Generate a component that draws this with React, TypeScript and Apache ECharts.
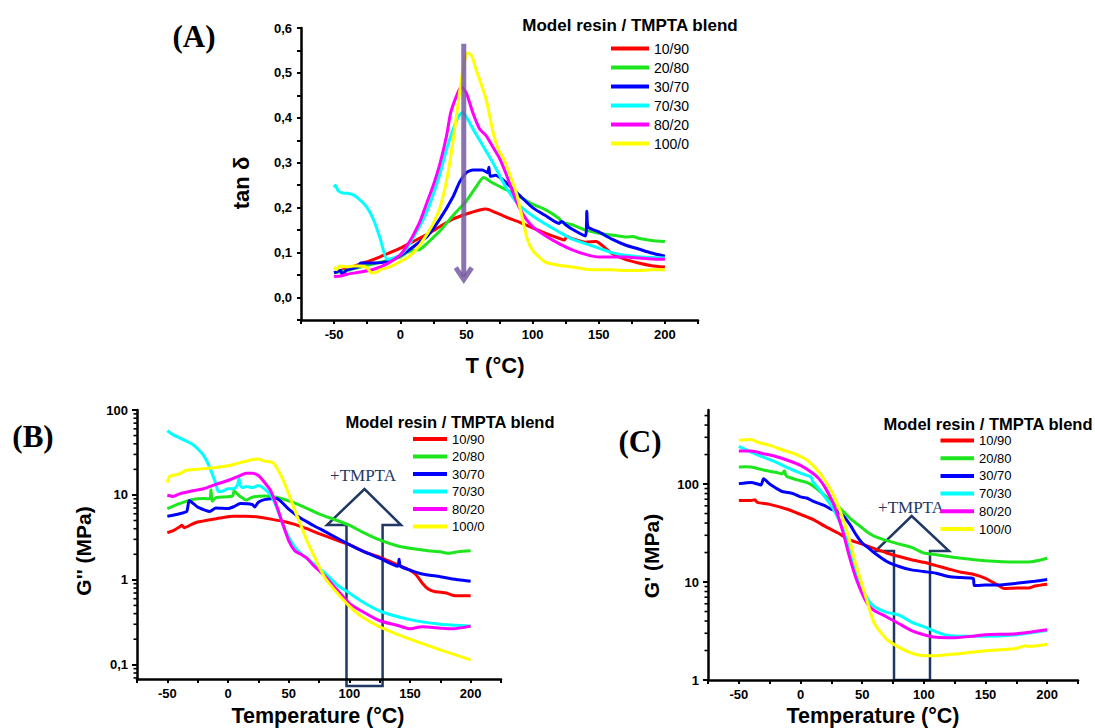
import React, { useEffect, useRef } from 'react';
import * as echarts from 'echarts';

const FONT = '"Liberation Sans", Arial, sans-serif';
const SERIF = '"Liberation Serif", "Times New Roman", serif';

const BLEND_NAMES = ['10/90', '20/80', '30/70', '70/30', '80/20', '100/0'];
const BLEND_COLORS = ['#ff0000', '#1ee61e', '#0000ff', '#00ffff', '#ff00ff', '#ffff00'];
const LEGEND_TITLE = 'Model resin / TMPTA blend';

// Panel A: tan delta vs T (°C)
const A_10_90 = [[-50,0.055],[-40,0.065],[-30,0.075],[-20,0.085],[-10,0.097],[0,0.11],[10,0.125],[20,0.14],[30,0.158],[40,0.175],[50,0.186],[60,0.195],[65,0.197],[70,0.192],[80,0.179],[90,0.168],[100,0.155],[110,0.143],[120,0.132],[124,0.128],[126,0.136],[130,0.131],[140,0.123],[148,0.125],[155,0.11],[160,0.098],[170,0.085],[180,0.077],[190,0.071],[200,0.068]];
const A_20_80 = [[-50,0.055],[-40,0.06],[-30,0.068],[-20,0.075],[-10,0.082],[0,0.09],[5,0.1],[10,0.105],[15,0.107],[20,0.12],[30,0.148],[40,0.183],[50,0.215],[57,0.245],[63,0.267],[70,0.255],[80,0.24],[90,0.225],[100,0.208],[110,0.195],[120,0.176],[122,0.168],[130,0.162],[140,0.15],[150,0.143],[160,0.139],[170,0.135],[176,0.136],[180,0.132],[190,0.127],[200,0.125]];
const A_30_70 = [[-50,0.055],[-45,0.06],[-44,0.052],[-40,0.062],[-32,0.068],[-30,0.077],[-20,0.077],[-10,0.08],[0,0.093],[10,0.113],[15,0.125],[20,0.135],[30,0.175],[40,0.225],[45,0.258],[50,0.278],[55,0.284],[62,0.284],[66,0.278],[67,0.29],[68,0.27],[72,0.272],[80,0.256],[90,0.228],[100,0.2],[110,0.182],[120,0.165],[122,0.17],[125,0.162],[130,0.152],[140,0.137],[141,0.192],[142,0.157],[150,0.146],[160,0.13],[170,0.117],[180,0.108],[190,0.099],[200,0.092]];
const A_70_30 = [[-50,0.245],[-49,0.25],[-47,0.238],[-44,0.233],[-40,0.232],[-35,0.228],[-30,0.216],[-25,0.2],[-20,0.172],[-15,0.13],[-10,0.085],[-5,0.088],[0,0.095],[5,0.11],[10,0.135],[15,0.16],[20,0.19],[25,0.23],[30,0.275],[35,0.33],[40,0.375],[44,0.403],[47,0.412],[50,0.402],[55,0.375],[60,0.35],[70,0.3],[80,0.245],[90,0.205],[100,0.182],[110,0.163],[120,0.146],[130,0.13],[140,0.12],[150,0.11],[160,0.1],[170,0.094],[180,0.091],[190,0.089],[200,0.088]];
const A_80_20 = [[-50,0.047],[-45,0.048],[-40,0.052],[-30,0.057],[-20,0.063],[-10,0.075],[0,0.095],[5,0.115],[10,0.14],[15,0.17],[20,0.21],[25,0.25],[30,0.298],[35,0.36],[38,0.41],[42,0.445],[46,0.47],[50,0.455],[55,0.41],[60,0.375],[65,0.36],[70,0.335],[75,0.31],[80,0.275],[85,0.235],[90,0.2],[95,0.175],[100,0.158],[110,0.137],[120,0.12],[130,0.106],[140,0.096],[150,0.09],[160,0.09],[170,0.09],[180,0.088],[190,0.086],[200,0.085]];
const A_100_0 = [[-50,0.068],[-48,0.062],[-46,0.07],[-40,0.068],[-35,0.07],[-30,0.07],[-25,0.066],[-22,0.055],[-18,0.056],[-15,0.062],[-10,0.066],[-5,0.072],[0,0.08],[5,0.088],[10,0.1],[15,0.118],[20,0.14],[25,0.165],[30,0.2],[35,0.26],[40,0.35],[45,0.46],[48,0.52],[51,0.545],[54,0.538],[57,0.51],[60,0.485],[65,0.44],[70,0.37],[74,0.33],[78,0.31],[82,0.28],[88,0.23],[92,0.18],[96,0.13],[100,0.105],[105,0.09],[110,0.078],[120,0.072],[130,0.068],[140,0.063],[150,0.062],[160,0.062],[170,0.06],[180,0.06],[190,0.062],[200,0.062]];

// Panel B: G'' (MPa) vs Temperature (°C)
const B_10_90 = [[-50,3.6],[-45,3.8],[-40,4.2],[-38,4.4],[-36,4.1],[-30,4.5],[-25,4.8],[-15,5.1],[-5,5.4],[5,5.6],[15,5.6],[25,5.5],[35,5.2],[45,4.9],[55,4.5],[65,4.0],[75,3.5],[85,3.1],[100,2.6],[112,2.15],[125,1.85],[140,1.5],[150,1.3],[155,1.15],[160,0.92],[165,0.78],[170,0.73],[180,0.7],[185,0.66],[190,0.65],[200,0.65]];
const B_20_80 = [[-50,6.9],[-45,7.4],[-40,7.9],[-30,8.8],[-20,9.1],[-15,9.0],[-14,11.5],[-13,8.4],[-10,9.3],[0,9.5],[4,9.8],[5,11.2],[7,10.5],[10,9.6],[15,8.7],[20,9.4],[30,9.7],[40,9.4],[50,8.5],[60,7.5],[75,6.0],[90,5.0],[100,4.4],[110,3.7],[125,2.95],[140,2.5],[150,2.35],[165,2.2],[175,2.14],[182,2.05],[190,2.15],[200,2.2]];
const B_30_70 = [[-50,5.6],[-40,6.0],[-34,6.4],[-32,8.6],[-28,7.8],[-25,7.2],[-15,6.4],[-10,7.0],[0,6.9],[5,7.3],[10,7.9],[20,7.7],[22,7.2],[25,8.2],[30,8.8],[40,9.1],[50,6.8],[60,5.3],[70,4.4],[80,3.7],[100,2.6],[112,2.15],[125,1.8],[140,1.45],[141,1.75],[142,1.45],[150,1.3],[160,1.17],[175,1.09],[190,1.0],[200,0.96]];
const B_70_30 = [[-50,57],[-45,51],[-40,47],[-30,40],[-25,35],[-20,29],[-15,21],[-10,13.5],[-8,11],[-5,11],[0,11.8],[5,11.8],[8,13.3],[9,15.8],[10,13],[12,12.2],[15,12.6],[20,12.2],[25,12.9],[30,11.8],[35,10],[40,7.2],[45,4.6],[50,3.2],[55,2.45],[60,2.05],[70,1.57],[80,1.2],[90,0.87],[100,0.7],[110,0.56],[125,0.43],[150,0.34],[175,0.3],[200,0.285]];
const B_80_20 = [[-50,9.9],[-45,9.6],[-40,10.3],[-30,11.1],[-20,11.8],[-10,13.3],[0,14.8],[10,16.9],[15,18],[20,18],[25,16.9],[30,14.1],[35,11.3],[40,7.5],[45,4.6],[50,2.9],[55,2.2],[60,2.0],[65,1.8],[70,1.5],[80,1.1],[90,0.76],[100,0.53],[110,0.43],[125,0.33],[140,0.29],[150,0.265],[160,0.28],[175,0.27],[185,0.265],[200,0.285]];
const B_100_0 = [[-50,14],[-48,16.5],[-40,17.7],[-35,19.4],[-25,20],[-10,21],[0,22],[10,24],[20,26],[25,26.5],[30,25],[37,24],[40,21],[45,15.5],[50,10.3],[55,6.6],[60,4.4],[65,2.9],[70,2.05],[75,1.43],[80,1.05],[90,0.7],[100,0.49],[110,0.37],[125,0.28],[150,0.2],[175,0.15],[200,0.114]];

// Panel C: G' (MPa) vs Temperature (°C)
const C_10_90 = [[-50,68],[-40,68],[-37,69],[-35,65],[-25,62],[-10,55],[0,49],[10,43.6],[20,37],[30,31.8],[40,27],[50,24.4],[60,21.9],[70,19.8],[80,18.2],[90,16.9],[100,15.9],[110,14.7],[120,13.6],[130,12.6],[140,12],[150,10.9],[160,9.3],[165,8.6],[175,8.7],[185,8.7],[190,9.1],[200,9.5]];
const C_20_80 = [[-50,149],[-45,150],[-40,149],[-30,139],[-20,132],[-15,127],[-13,137],[-12,124],[-10,118],[0,108],[5,104],[10,96],[20,76],[30,60],[40,45],[50,35.7],[55,31.8],[60,29.3],[70,26.5],[80,24.4],[90,22.6],[100,19.8],[110,19],[125,17.8],[150,16.5],[175,16],[185,16],[200,17.5]];
const C_30_70 = [[-50,101],[-40,104],[-32,98],[-30,113],[-25,100],[-20,91],[-15,84],[-10,82],[-5,79],[0,74],[5,72],[10,67],[20,60],[25,55],[30,53],[35,47],[40,38.7],[45,30.5],[50,25],[55,22.3],[60,19.8],[70,16.2],[80,14.4],[90,13.3],[100,12.8],[110,12.3],[120,11.4],[130,11.1],[140,10.9],[141,9.2],[150,9.3],[160,9.3],[175,9.7],[190,10.2],[200,10.6]];
const C_70_30 = [[-50,243],[-40,212],[-30,188],[-20,167],[-10,146],[0,129],[8,119],[9,115],[10,106],[15,89],[20,73],[25,60],[30,46],[35,33],[40,20.6],[45,12.8],[50,8.6],[55,6.5],[60,5.6],[70,4.9],[80,4.6],[90,3.9],[100,3.5],[110,3.1],[120,2.84],[130,2.8],[150,2.8],[175,2.9],[200,3.2]];
const C_80_20 = [[-50,217],[-40,217],[-30,204],[-20,191],[-10,174],[0,155],[10,129],[15,113],[20,92],[25,70],[30,49],[35,30.5],[40,17.5],[45,10.9],[50,7.6],[55,5.8],[60,5.1],[70,4.4],[80,3.75],[90,3.2],[100,2.9],[110,2.73],[125,2.7],[140,2.8],[150,2.9],[175,2.96],[200,3.25]];
const C_100_0 = [[-50,280],[-40,285],[-35,269],[-25,248],[-15,224],[-5,204],[0,191],[5,177],[10,155],[15,132],[20,108],[25,85],[30,62],[35,42],[40,26],[45,15],[50,9.3],[55,5.8],[60,3.75],[70,2.6],[80,2.15],[90,1.88],[100,1.77],[110,1.77],[125,1.84],[150,1.99],[175,2.1],[182,2.24],[185,2.2],[200,2.3]];

const PANEL_A = [A_10_90, A_20_80, A_30_70, A_70_30, A_80_20, A_100_0];
const PANEL_B = [B_10_90, B_20_80, B_30_70, B_70_30, B_80_20, B_100_0];
const PANEL_C = [C_10_90, C_20_80, C_30_70, C_70_30, C_80_20, C_100_0];

// axis ranges
const X_MIN = -75, X_MAX = 225, X_STEP = 25, X_LABEL_STEP = 50;
const A_Y_MIN = -0.05, A_Y_MAX = 0.6, A_Y_STEP = 0.05;
const B_Y_MIN = 0.068, B_Y_MAX = 100;
const C_Y_MIN = 1, C_Y_MAX = 570;
// purple arrow in panel A (data coords: from, to)
const A_ARROW = [[48, 0.565], [48, 0.04]];

const xLabel = (v: number) => (Math.round(v) % X_LABEL_STEP === 0 ? String(Math.round(v)) : '');
const yLabelA = (v: number) => {
  const t = Math.round(v * 100);
  return t % 10 === 0 ? (t / 100).toFixed(1).replace('.', ',') : '';
};
const logLabel = (v: number) => {
  const l = Math.log10(v);
  if (Math.abs(l - Math.round(l)) > 1e-6) return '';
  const p = Math.round(l);
  if (p < 0) return String(Math.pow(10, p).toFixed(-p)).replace('.', ',');
  return String(Math.pow(10, p));
};

const axisLineStyle = { show: true, onZero: false, lineStyle: { color: '#000', width: 2.5 } };
const axisTickStyle = { show: true, inside: false, length: 4, lineStyle: { color: '#000', width: 2 } };
const labelStyle = { color: '#000', fontFamily: FONT, fontWeight: 'bold', fontSize: 13 };

function xAxis(gridIndex: number) {
  return {
    type: 'value', gridIndex, min: X_MIN, max: X_MAX, interval: X_STEP,
    axisLine: axisLineStyle, axisTick: axisTickStyle,
    axisLabel: { ...labelStyle, formatter: xLabel, margin: 8 },
    splitLine: { show: false },
  };
}

function makeSeries(panel: number, datasets: number[][][]) {
  return datasets.map((d, i) => ({
    type: 'line', name: BLEND_NAMES[i], xAxisIndex: panel, yAxisIndex: panel,
    data: d, showSymbol: false, symbol: 'none', smooth: 0.2,
    lineStyle: { width: 3, color: BLEND_COLORS[i] },
    itemStyle: { color: BLEND_COLORS[i] },
    emphasis: { disabled: true }, silent: true,
  }));
}

function legend(left: number, top: number, itemWidth: number, itemGap: number, fontSize: number) {
  return {
    left, top, orient: 'vertical', padding: 0, itemWidth, itemHeight: 4, itemGap,
    icon: 'rect', selectedMode: false, data: BLEND_NAMES,
    textStyle: { fontFamily: FONT, fontSize, color: '#000' },
  };
}

export default function App() {
  const ref = useRef<HTMLDivElement>(null);
  useEffect(() => {
    document.body.style.margin = '0';
    const chart = echarts.init(ref.current!, undefined, { renderer: 'svg' });
    const option: any = {
      animation: false,
      grid: [
        { left: 301, top: 28, width: 397, height: 292, containLabel: false, outerBoundsMode: 'none' },
        { left: 137, top: 410, width: 364, height: 269, containLabel: false, outerBoundsMode: 'none' },
        { left: 708, top: 410, width: 370, height: 270, containLabel: false, outerBoundsMode: 'none' },
      ],
      xAxis: [xAxis(0), xAxis(1), xAxis(2)],
      yAxis: [
        {
          type: 'value', gridIndex: 0, min: A_Y_MIN, max: A_Y_MAX, interval: A_Y_STEP,
          axisLine: axisLineStyle, axisTick: axisTickStyle,
          axisLabel: { ...labelStyle, formatter: yLabelA, margin: 9 }, splitLine: { show: false },
        },
        {
          type: 'log', logBase: 10, gridIndex: 1, min: B_Y_MIN, max: B_Y_MAX,
          axisLine: axisLineStyle, axisTick: { ...axisTickStyle, length: 5 },
          axisLabel: { ...labelStyle, formatter: logLabel, margin: 9, showMinLabel: false }, splitLine: { show: false },
        },
        {
          type: 'log', logBase: 10, gridIndex: 2, min: C_Y_MIN, max: C_Y_MAX,
          axisLine: axisLineStyle, axisTick: { ...axisTickStyle, length: 5 },
          axisLabel: { ...labelStyle, formatter: logLabel, margin: 9, showMaxLabel: false }, splitLine: { show: false },
        },
      ],
      legend: [
        legend(611, 41.5, 38, 5, 14),
        legend(413, 432.5, 34, 4.5, 13),
        legend(940.5, 434, 33.5, 4.7, 13),
      ],
      series: [...makeSeries(0, PANEL_A), ...makeSeries(1, PANEL_B), ...makeSeries(2, PANEL_C)],
    };
    chart.setOption(option);

    const g: any[] = [];
    // minor log ticks, positioned through the log axes
    const minorTicks = (gi: number, lo: number, hi: number) => {
      const ax = (chart.convertToPixel({ gridIndex: gi }, [X_MIN, hi]) as number[])[0];
      for (let d = -3; d <= 3; d++) {
        for (let k = 2; k <= 9; k++) {
          const v = k * Math.pow(10, d);
          if (v <= lo || v >= hi) continue;
          const y = (chart.convertToPixel({ gridIndex: gi }, [X_MIN, v]) as number[])[1];
          g.push({ type: 'line', silent: true, shape: { x1: ax - 3.5, y1: y, x2: ax, y2: y }, style: { stroke: '#000', lineWidth: 1.6 } });
        }
      }
    };
    minorTicks(1, B_Y_MIN, B_Y_MAX);
    minorTicks(2, C_Y_MIN, C_Y_MAX);

    // purple arrow in panel A, positioned through the axes
    const p0 = chart.convertToPixel({ gridIndex: 0 }, A_ARROW[0]) as number[];
    const p1 = chart.convertToPixel({ gridIndex: 0 }, A_ARROW[1]) as number[];
    const purple = { stroke: 'rgba(118,90,160,0.85)', lineWidth: 5, fill: 'none', lineCap: 'butt', lineJoin: 'miter' };
    g.push({ type: 'line', silent: true, z: 100, shape: { x1: p0[0], y1: p0[1], x2: p1[0], y2: p1[1] - 3 }, style: purple });
    g.push({ type: 'polyline', silent: true, z: 100, shape: { points: [[p1[0] - 8, p1[1] - 12], [p1[0], p1[1]], [p1[0] + 8, p1[1] - 12]] }, style: purple });

    const txt = (x: number, y: number, text: string, fontSize: number, extra: any = {}) => ({
      type: 'text', x, y, silent: true, rotation: extra.rotation || 0,
      style: {
        text, fontSize, fontFamily: extra.fontFamily || FONT, fontWeight: extra.fontWeight || 'bold',
        fill: extra.fill || '#000', align: 'center', verticalAlign: 'middle',
      },
    });
    g.push(txt(194, 36, '(A)', 31, { fontFamily: SERIF }));
    g.push(txt(33, 436, '(B)', 31, { fontFamily: SERIF }));
    g.push(txt(640, 441, '(C)', 31, { fontFamily: SERIF }));
    g.push(txt(241, 183, 'tan δ', 22, { rotation: Math.PI / 2 }));
    g.push(txt(83, 551, "G'' (MPa)", 21, { rotation: Math.PI / 2 }));
    g.push(txt(651, 556, "G' (MPa)", 21, { rotation: Math.PI / 2 }));
    g.push(txt(495, 365, 'T (°C)', 22));
    g.push(txt(318, 716, 'Temperature (°C)', 21.5));
    g.push(txt(873, 716, 'Temperature (°C)', 21.5));
    g.push(txt(630, 25, LEGEND_TITLE, 17));
    g.push(txt(450, 422, LEGEND_TITLE, 16.5));
    g.push(txt(988, 423.5, LEGEND_TITLE, 16.5));
    g.push(txt(363, 475, '+TMPTA', 17, { fontFamily: SERIF, fontWeight: 'normal', fill: '#1f3864' }));
    g.push(txt(911, 507, '+TMPTA', 17, { fontFamily: SERIF, fontWeight: 'normal', fill: '#1f3864' }));
    const arrowStyle = { fill: 'none', stroke: '#1f3864', lineWidth: 2.5, lineJoin: 'miter' };
    g.push({ type: 'polygon', silent: true, shape: { points: [[346.5, 686], [346.5, 525], [327, 525], [364.5, 489], [401, 525], [382.6, 525], [382.6, 686]] }, style: arrowStyle });
    g.push({ type: 'polygon', silent: true, shape: { points: [[894, 680], [894, 551], [875.5, 551], [911.7, 516], [949, 551], [930, 551], [930, 680]] }, style: arrowStyle });
    chart.setOption({ graphic: g });

    return () => chart.dispose();
  }, []);
  return <div ref={ref} style={{ width: 1095, height: 728 }} />;
}
